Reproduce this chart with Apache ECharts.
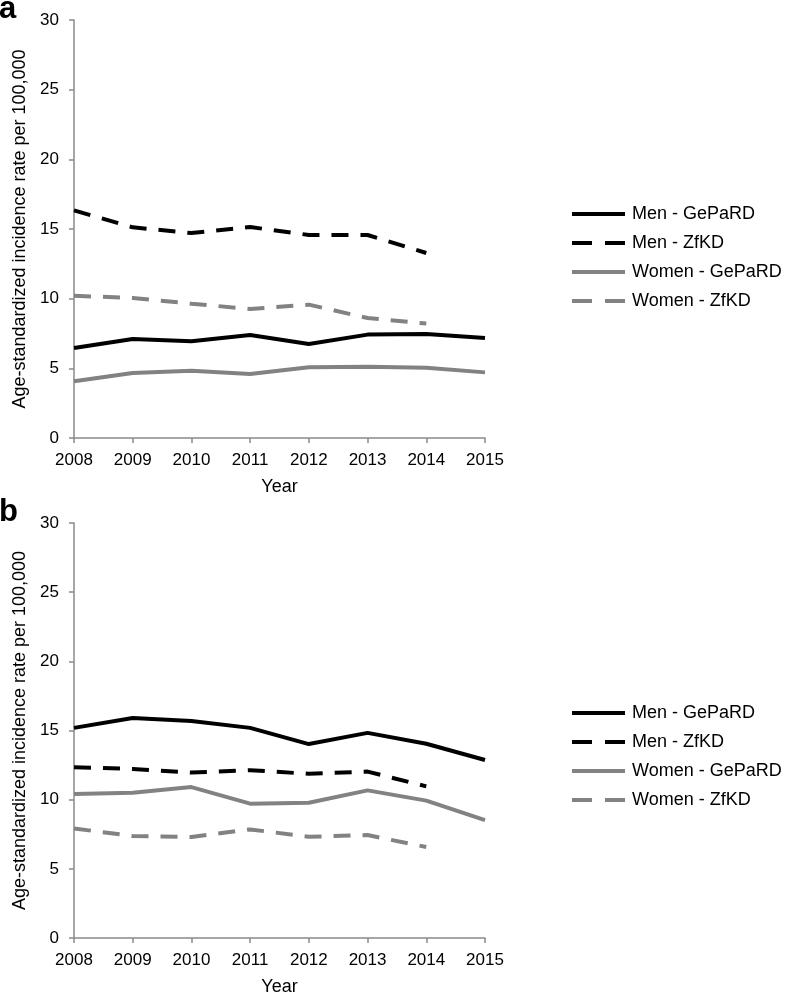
<!DOCTYPE html>
<html><head><meta charset="utf-8">
<script src="https://cdn.jsdelivr.net/npm/echarts@6/dist/echarts.min.js"></script>
<style>html,body{margin:0;padding:0;background:#fff}#c{width:786px;height:997px}</style>
</head><body><div id="c"></div>
<script>
const years = ['2008','2009','2010','2011','2012','2013','2014','2015'];
const yTicks = [0,5,10,15,20,25,30];
const seriesNames = ['Men - GePaRD','Men - ZfKD','Women - GePaRD','Women - ZfKD'];
// Panel a
const aMenGePaRD   = [6.46, 7.11, 6.94, 7.39, 6.75, 7.42, 7.46, 7.18];
const aMenZfKD     = [16.34, 15.12, 14.71, 15.14, 14.57, 14.57, 13.28, null];
const aWomenGePaRD = [4.07, 4.67, 4.83, 4.59, 5.07, 5.12, 5.05, 4.71];
const aWomenZfKD   = [10.21, 10.05, 9.64, 9.26, 9.57, 8.61, 8.21, null];
// Panel b
const bMenGePaRD   = [15.19, 15.91, 15.69, 15.19, 14.02, 14.83, 14.04, 12.87];
const bMenZfKD     = [12.34, 12.22, 11.96, 12.13, 11.87, 12.03, 10.96, null];
const bWomenGePaRD = [10.41, 10.50, 10.91, 9.71, 9.78, 10.67, 9.93, 8.52];
const bWomenZfKD   = [7.92, 7.37, 7.30, 7.85, 7.32, 7.44, 6.58, null];

const FONT = 'Liberation Sans, Arial, Helvetica, sans-serif';
const BLACK = '#000000', GREY = '#828282', AXIS = '#8a8a8a';
const DASH = [17, 12];
const ICON_SOLID = 'path://M0,0H53V4H0Z';
const ICON_DASH = 'path://M0,0H20V4H0Z M33,0H53V4H33Z';
const styles = [
  {color: BLACK, type: 'solid', icon: ICON_SOLID},
  {color: BLACK, type: DASH, icon: ICON_DASH},
  {color: GREY, type: 'solid', icon: ICON_SOLID},
  {color: GREY, type: DASH, icon: ICON_DASH}
];
const panels = [
  {label: 'a', top: 20, legendTop: 205, data: [aMenGePaRD, aMenZfKD, aWomenGePaRD, aWomenZfKD]},
  {label: 'b', top: 523, legendTop: 704, data: [bMenGePaRD, bMenZfKD, bWomenGePaRD, bWomenZfKD]}
];

const grids = [], xAxes = [], yAxes = [], series = [], legends = [], titles = [];
panels.forEach((p, i) => {
  grids.push({left: 74, top: p.top, width: 411, height: 418});
  titles.push({text: p.label, left: -1, top: p.top - 26, padding: 0,
    textStyle: {fontFamily: FONT, fontSize: 31, fontWeight: 'bold', color: '#000'}});
  xAxes.push({type: 'category', gridIndex: i, data: years, boundaryGap: false,
    name: 'Year', nameLocation: 'middle', nameGap: 40,
    nameTextStyle: {fontFamily: FONT, fontSize: 18, color: '#000'},
    axisLine: {lineStyle: {color: AXIS, width: 1.5}},
    axisTick: {show: true, length: 5, alignWithLabel: true, lineStyle: {color: AXIS, width: 1.5}},
    axisLabel: {fontFamily: FONT, fontSize: 17, color: '#000', margin: 14, interval: 0},
    splitLine: {show: false}});
  yAxes.push({type: 'value', gridIndex: i, min: yTicks[0], max: yTicks[yTicks.length-1], interval: 5,
    name: 'Age-standardized incidence rate per 100,000', nameLocation: 'middle', nameGap: 45,
    nameTextStyle: {fontFamily: FONT, fontSize: 18, color: '#000'},
    axisLine: {show: true, lineStyle: {color: AXIS, width: 1.5}},
    axisTick: {show: true, length: 5, lineStyle: {color: AXIS, width: 1.5}},
    axisLabel: {fontFamily: FONT, fontSize: 17, color: '#000', margin: 15},
    splitLine: {show: false}});
  p.data.forEach((d, k) => {
    series.push({name: seriesNames[k], type: 'line', xAxisIndex: i, yAxisIndex: i,
      data: d, symbol: 'none', smooth: false, connectNulls: false,
      lineStyle: {color: styles[k].color, width: 4, type: styles[k].type},
      itemStyle: {color: styles[k].color}, z: 10 - k});
  });
  legends.push({orient: 'vertical', left: 572, top: p.legendTop, itemWidth: 53, itemHeight: 4,
    itemGap: 11, padding: 0, selectedMode: false,
    data: seriesNames.map((n, k) => ({name: n, icon: styles[k].icon,
      itemStyle: {color: styles[k].color, borderWidth: 0}})),
    textStyle: {fontFamily: FONT, fontSize: 18, lineHeight: 18, color: '#000', padding: [0,0,0,2]}});
});

const chart = echarts.init(document.getElementById('c'), null, {renderer: 'canvas'});
chart.setOption({
  backgroundColor: '#fff', animation: false,
  title: titles, grid: grids, xAxis: xAxes, yAxis: yAxes, legend: legends, series: series
});
</script></body></html>
